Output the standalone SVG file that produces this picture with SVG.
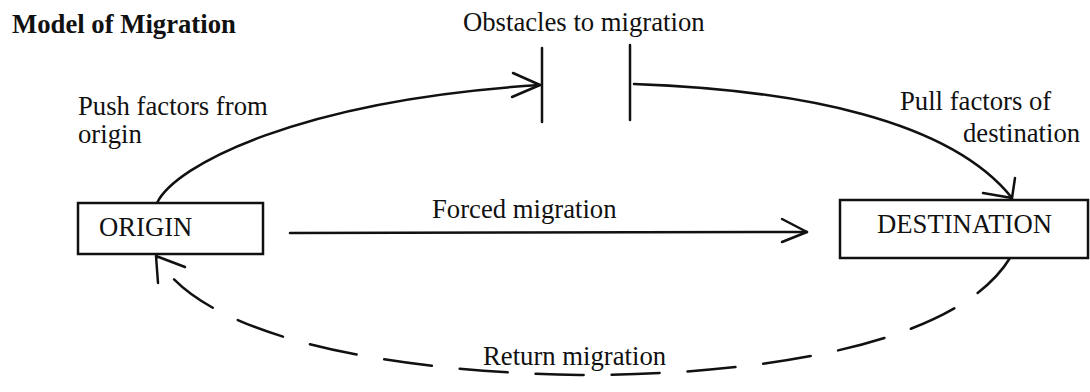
<svg xmlns="http://www.w3.org/2000/svg" width="1090" height="392" viewBox="0 0 1090 392">
  <style>
    .t { font-family: "Liberation Serif", "Times New Roman", serif; font-size: 26.7px; fill: #111; }
    .title { font-weight: bold; }
    .box { fill: #fff; stroke: #111; stroke-width: 2.5; }
    .ln { fill: none; stroke: #111; stroke-width: 2.5; stroke-linecap: round; stroke-linejoin: round; }
    .dash { stroke-dasharray: 48 28; }
  </style>
  <rect width="1090" height="392" fill="#fff"/>

  <g id="title">
    <text class="t title" x="12" y="33">Model of Migration</text>
  </g>

  <g id="connectors">
    <!-- push: origin to obstacles -->
    <path class="ln" d="M157,203 C175,165 300,100 540,85"/>
    <polyline class="ln" points="513,73 540,85 512,97"/>
    <!-- pull: obstacles to destination -->
    <path class="ln" d="M634,84 C800,90 950,120 1012,198"/>
    <polyline class="ln" points="1015,178 1012,198 983,193"/>
    <!-- forced migration -->
    <line class="ln" x1="290" y1="233" x2="807" y2="232"/>
    <polyline class="ln" points="782,219 807,232 782,242"/>
    <!-- return migration (dashed) -->
    <path class="ln dash" d="M1010,258 C960,340 780,375 580,375 C380,372 200,335 157,257"/>
    <polyline class="ln" points="185,267 156,256 158,283"/>
  </g>

  <g id="obstacles">
    <line class="ln" x1="542" y1="48" x2="542" y2="122"/>
    <line class="ln" x1="630" y1="45" x2="630" y2="120"/>
    <text class="t" x="463" y="31">Obstacles to migration</text>
  </g>

  <g id="origin">
    <rect class="box" x="78" y="203" width="185" height="51"/>
    <text class="t" x="99" y="236">ORIGIN</text>
  </g>

  <g id="destination">
    <rect class="box" x="840" y="200" width="248" height="58"/>
    <text class="t" x="877" y="233">DESTINATION</text>
  </g>

  <g id="labels">
    <text class="t" x="78" y="115">Push factors from</text>
    <text class="t" x="78" y="143">origin</text>
    <text class="t" x="900" y="110">Pull factors of</text>
    <text class="t" x="963" y="142">destination</text>
    <text class="t" x="432" y="218">Forced migration</text>
    <text class="t" x="483" y="365">Return migration</text>
  </g>
</svg>
